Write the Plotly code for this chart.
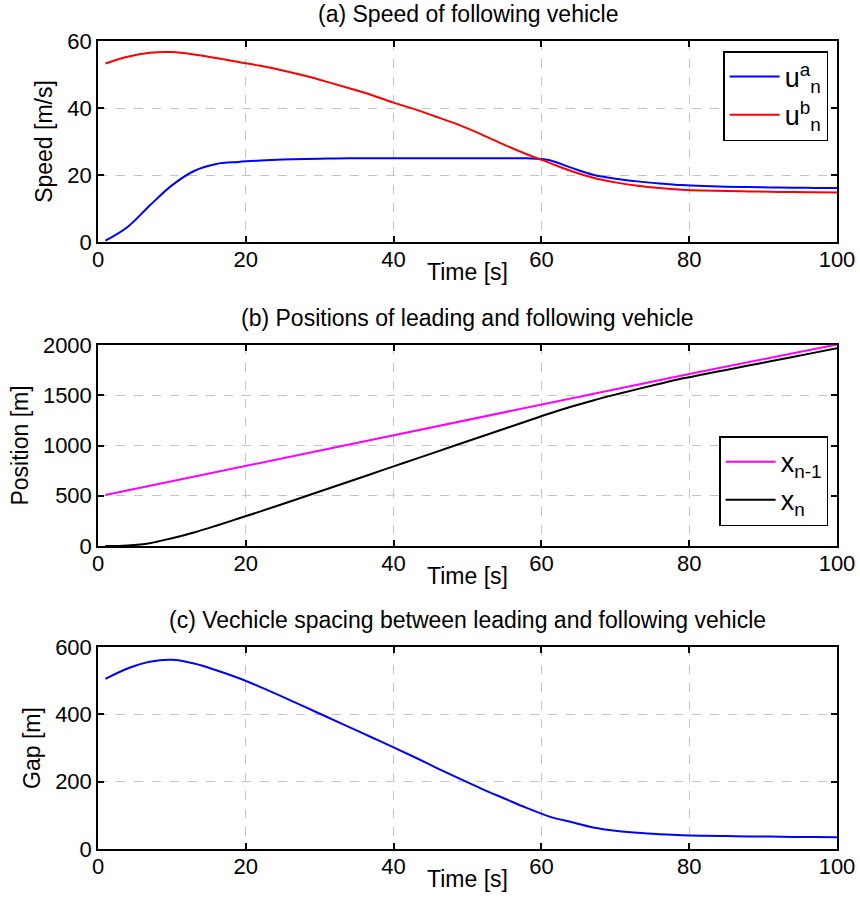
import plotly.graph_objects as go
from plotly.subplots import make_subplots

# ---- data ----
t = [1, 4, 7, 10, 13, 16, 19, 22, 25, 28, 31, 34, 37, 40, 43, 46, 49, 52, 55, 58,
     61, 64, 67, 70, 73, 76, 79, 82, 85, 88, 91, 94, 97, 100]
u_a = [0.4, 4.5, 10.9, 16.9, 21.2, 23.3, 23.9, 24.3, 24.6, 24.8, 24.9, 25.0, 25.0, 25.0,
       25.0, 25.0, 25.0, 25.0, 25.0, 25.0, 24.5, 22.2, 20.1, 18.9, 18.1, 17.5, 17.0,
       16.7, 16.5, 16.4, 16.3, 16.2, 16.15, 16.1]
u_b = [53.3, 55.3, 56.5, 56.7, 56.0, 54.9, 53.7, 52.6, 51.2, 49.6, 47.8, 45.9, 43.9,
       41.6, 39.5, 37.2, 34.8, 32.0, 29.0, 26.2, 23.7, 21.2, 19.2, 17.8, 16.8, 16.1,
       15.6, 15.35, 15.2, 15.1, 15.0, 14.9, 14.85, 14.8]
t_lead = [1, 20, 40, 60, 80, 100]
x_lead = [507, 795, 1100, 1403, 1712, 2005]
x_follow = [0, 6, 28, 78, 135, 202, 273, 345, 418, 492, 567, 642, 717, 792, 867, 942,
            1017, 1092, 1167, 1242, 1316, 1385, 1448, 1506, 1561, 1614, 1666, 1709,
            1752, 1795, 1838, 1881, 1924, 1967]
gap = [505, 536, 556, 562, 551, 531, 508, 481, 452, 422, 392, 362, 332, 302, 271, 239,
       208, 178, 150, 122, 97, 80, 64, 54, 48, 44, 41, 39.5, 38.5, 37.5, 37, 36, 35.5, 35]

x_ticks = [0, 20, 40, 60, 80, 100]
titles = ["(a) Speed of following vehicle",
          "(b) Positions of leading and following vehicle",
          "(c) Vechicle spacing between leading and following vehicle"]
ylabels = ["Speed [m/s]", "Position [m]", "Gap [m]"]
xlabel = "Time [s]"

FONT = "Liberation Sans, Arial, Helvetica, sans-serif"
TXT = 23
TICK = 22

fig = make_subplots(rows=3, cols=1, vertical_spacing=0.1)

lw = 2
spl = dict(shape="spline", smoothing=1.0)
fig.add_trace(go.Scatter(x=t, y=u_a, mode="lines", line=dict(color="#0000ff", width=lw, **spl),
                         name="u<sup>a</sup><sub>n</sub>", legend="legend"), row=1, col=1)
fig.add_trace(go.Scatter(x=t, y=u_b, mode="lines", line=dict(color="#ff0000", width=lw, **spl),
                         name="u<sup>b</sup><sub>n</sub>", legend="legend"), row=1, col=1)
fig.add_trace(go.Scatter(x=t_lead, y=x_lead, mode="lines", line=dict(color="#ff00ff", width=lw),
                         name="x<sub>n-1</sub>", legend="legend2"), row=2, col=1)
fig.add_trace(go.Scatter(x=t, y=x_follow, mode="lines", line=dict(color="#000000", width=lw, **spl),
                         name="x<sub>n</sub>", legend="legend2"), row=2, col=1)
fig.add_trace(go.Scatter(x=t, y=gap, mode="lines", line=dict(color="#0000ff", width=lw, **spl),
                         showlegend=False), row=3, col=1)

H = 808.0
doms = [((849 - 242) / H, 1.0), ((849 - 546) / H, (849 - 345) / H), (0.0, (849 - 647) / H)]
yranges = [[0, 60], [0, 2000], [0, 600]]
ydticks = [20, 500, 200]

axis_common = dict(showline=True, linecolor="black", linewidth=1.5, mirror="ticks",
                   ticks="inside", ticklen=6, tickwidth=1.5, tickcolor="black",
                   showgrid=True, gridcolor="#c4c4c4", griddash="dash", gridwidth=1,
                   zeroline=False, automargin=False,
                   tickfont=dict(size=TICK, color="black", family=FONT))

for i in range(3):
    xa = "x" if i == 0 else f"x{i+1}"
    ya = "y" if i == 0 else f"y{i+1}"
    fig.update_xaxes(range=[0, 100], tickvals=x_ticks, row=i + 1, col=1,
                     ticklabelstandoff=-3, **axis_common)
    fig.update_yaxes(range=yranges[i], dtick=ydticks[i], domain=list(doms[i]), row=i + 1, col=1,
                     title=dict(text=ylabels[i], font=dict(size=TXT, color="black", family=FONT), standoff=8),
                     **axis_common)
    fig.add_annotation(text=titles[i], xref="paper", yref="paper", x=0.5, y=doms[i][1],
                       yanchor="bottom", xanchor="center", yshift=12, showarrow=False,
                       font=dict(size=TXT, color="black", family=FONT))
    fig.add_annotation(text=xlabel, xref=f"{xa} domain", yref=f"{ya} domain", x=0.5, y=0,
                       yanchor="top", xanchor="center", yshift=-15, showarrow=False,
                       font=dict(size=TXT, color="black", family=FONT))

fig.update_layout(
    width=860, height=913,
    margin=dict(l=98, r=23, t=41, b=64),
    paper_bgcolor="white", plot_bgcolor="white",
    font=dict(family=FONT, color="black"),
    legend=dict(x=0.988, y=0.9876, xanchor="right", yanchor="top",
                bgcolor="white", bordercolor="black", borderwidth=1.5, itemwidth=50,
                font=dict(size=27, family=FONT, color="black"), tracegroupgap=10),
    legend2=dict(x=0.988, y=0.511, xanchor="right", yanchor="top",
                 bgcolor="white", bordercolor="black", borderwidth=1.5, itemwidth=50,
                 font=dict(size=27, family=FONT, color="black")),
)

fig.write_html("out.html")
